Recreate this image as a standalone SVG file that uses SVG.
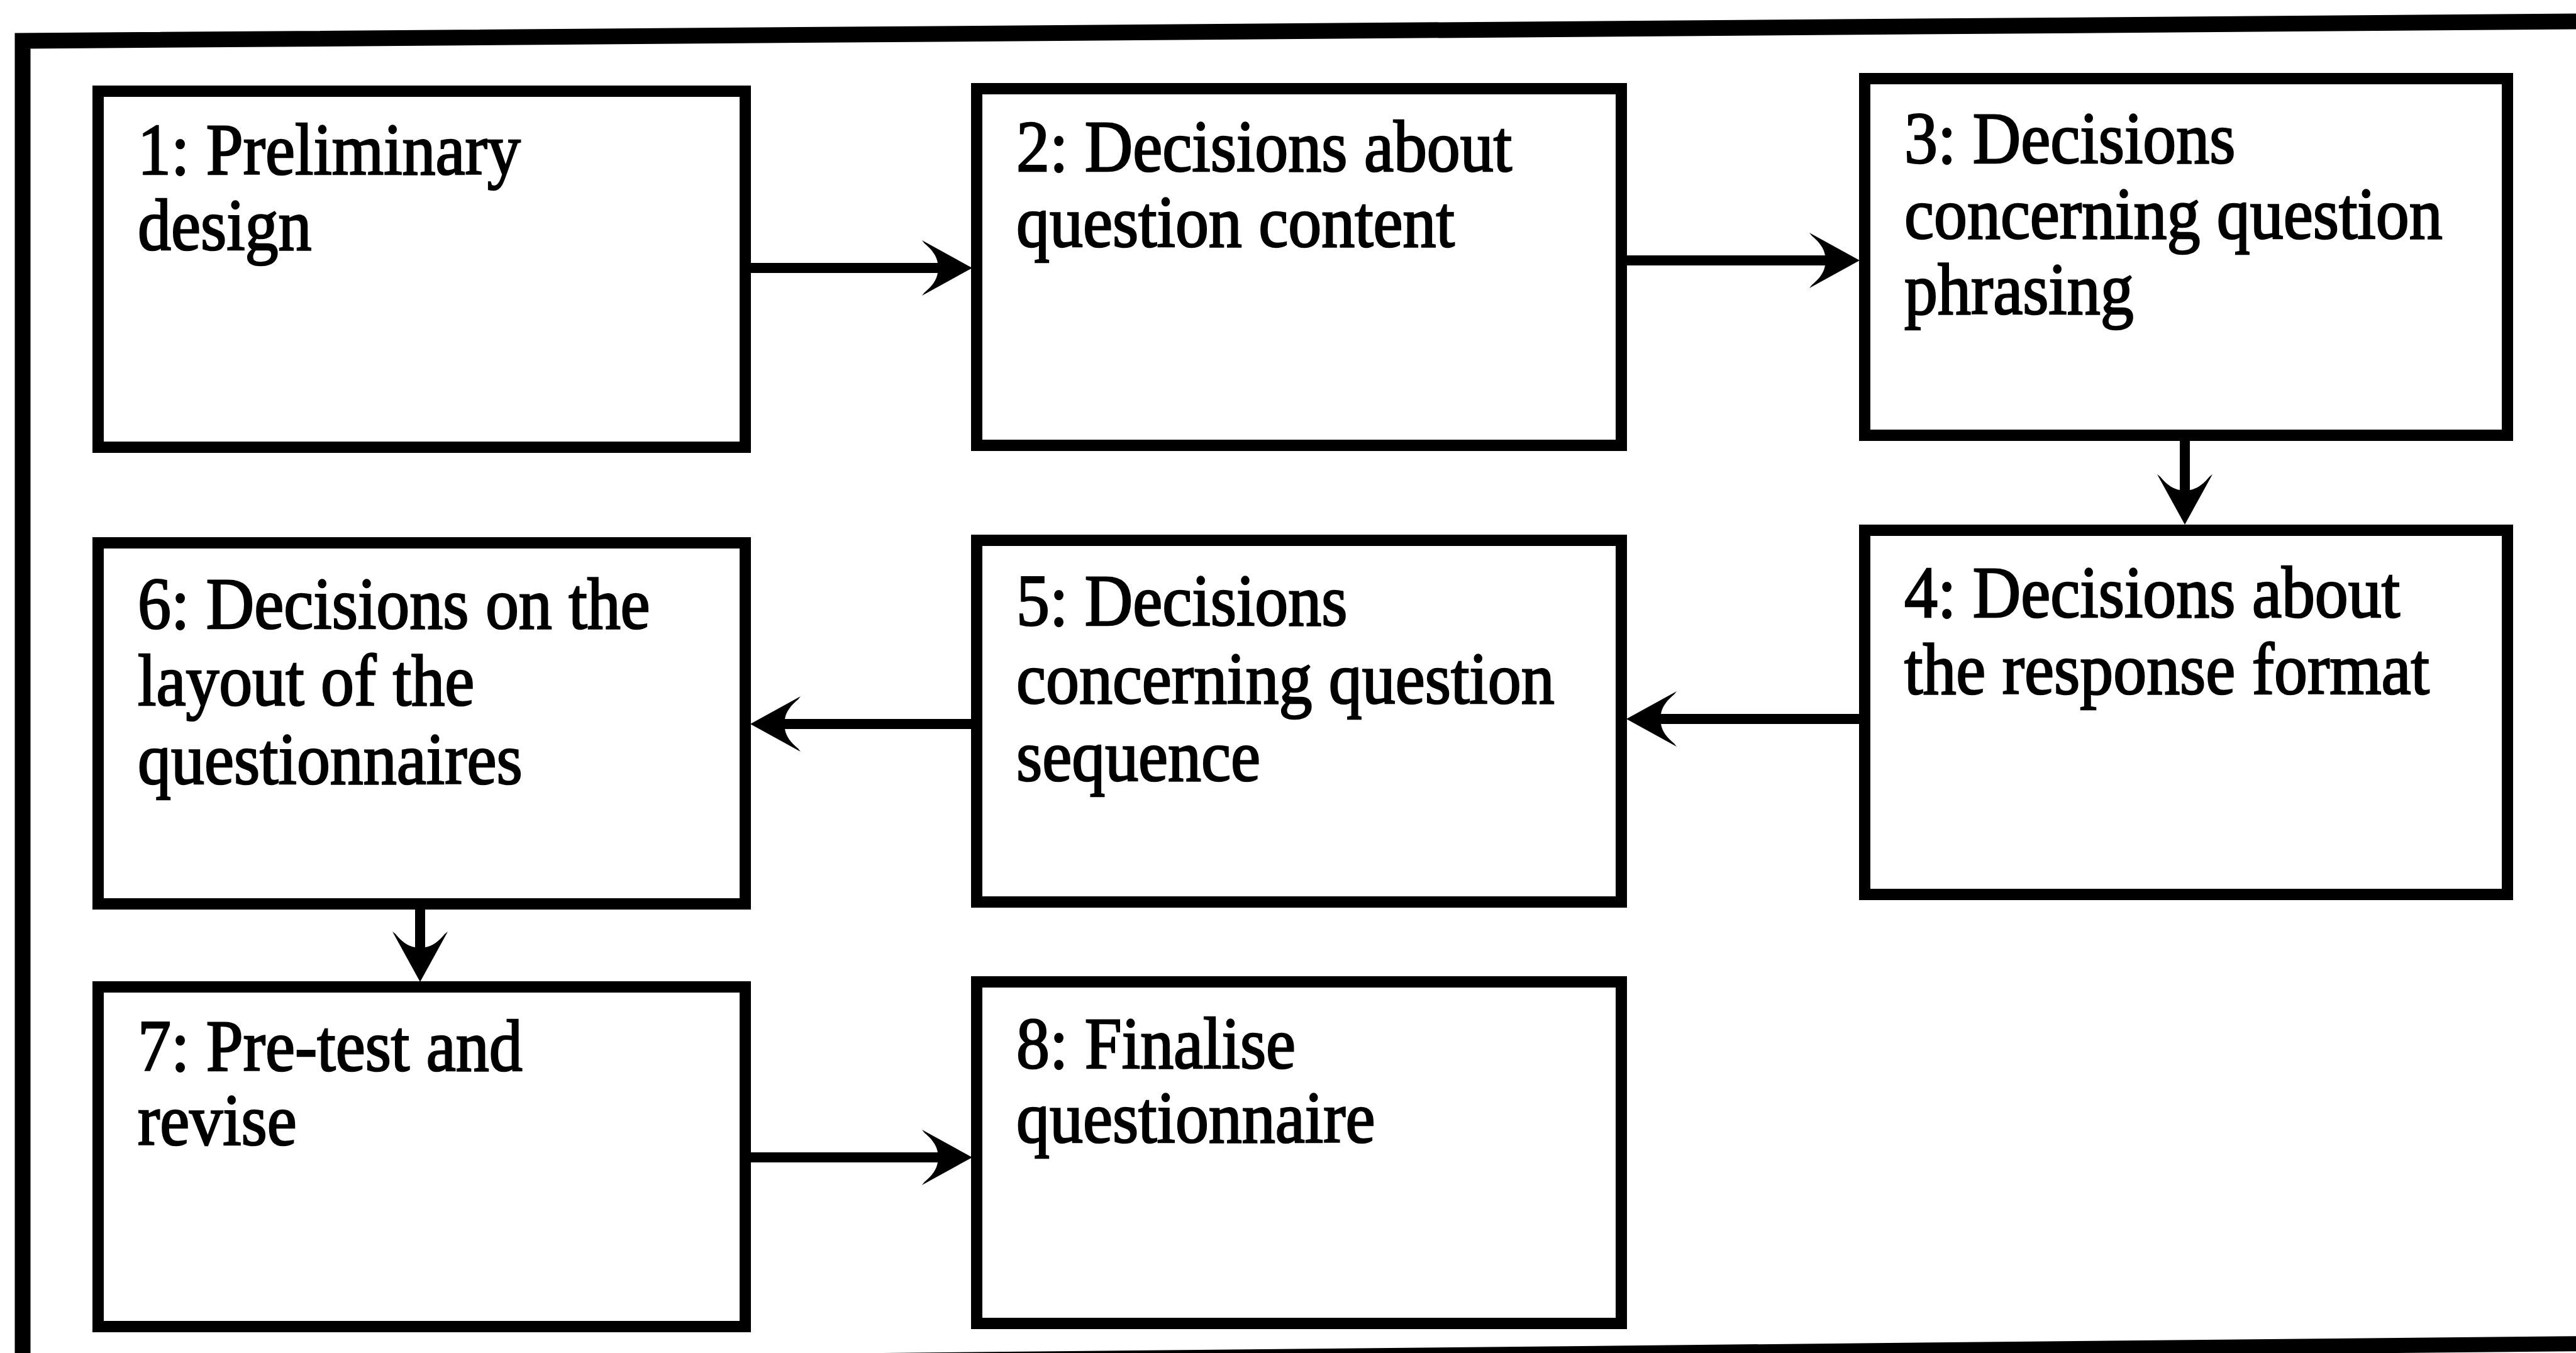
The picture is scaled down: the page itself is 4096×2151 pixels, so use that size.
<svg xmlns="http://www.w3.org/2000/svg" width="4096" height="2151" viewBox="0 0 4096 2151">
  <style>
    .box { fill: #fff; stroke: #000; stroke-width: 18; }
    .lbl { font-family: "Liberation Serif", "Times New Roman", serif; font-size: 117px; fill: #000; stroke: #000; stroke-width: 2.6; }
    .conn { fill: none; stroke: #000; stroke-width: 16; }
    .frame { fill: none; stroke: #000; stroke-width: 25; stroke-linejoin: miter; }
  </style>
  <defs>
    <!-- barbed arrowhead: origin sits at the notch where the shaft ends, tip lies 55 units ahead -->
    <marker id="barb" markerUnits="userSpaceOnUse" viewBox="-30 -50 90 100" markerWidth="90" markerHeight="100" refX="0" refY="0" orient="auto" overflow="visible">
      <path d="M 55,0 L -25,-44 L -21,-39 C -10,-30 -2,-20 0,-8 L 0,8 C -2,20 -10,30 -21,39 L -25,44 Z" fill="#000"/>
    </marker>
  </defs>

  <rect x="0" y="0" width="4096" height="2151" fill="#fff"/>

  <!-- outer frame (left and top edges, bottom edge running off the page) -->
  <g id="frame">
    <path class="frame" d="M 4110,34 L 36,65 L 36,2170"/>
    <path class="frame" d="M 0,2177 L 4110,2136" style="stroke-width:24"/>
  </g>

  <!-- connectors -->
  <g id="connectors">
    <line class="conn" x1="1185" y1="426" x2="1491" y2="426" marker-end="url(#barb)"/>
    <line class="conn" x1="2578" y1="414" x2="2902" y2="414" marker-end="url(#barb)"/>
    <line class="conn" x1="3474" y1="692" x2="3474" y2="779" marker-end="url(#barb)"/>
    <line class="conn" x1="2965" y1="1143" x2="2641" y2="1143" marker-end="url(#barb)"/>
    <line class="conn" x1="1553" y1="1151" x2="1248" y2="1151" marker-end="url(#barb)"/>
    <line class="conn" x1="668" y1="1437" x2="668" y2="1506" marker-end="url(#barb)"/>
    <line class="conn" x1="1185" y1="1840" x2="1491" y2="1840" marker-end="url(#barb)"/>
  </g>

  <!-- nodes -->
  <g id="node-1">
    <rect class="box" x="156" y="145" width="1029" height="566"/>
    <text class="lbl" transform="translate(219 277) scale(0.905 1)"><tspan x="0" y="0">1: Preliminary</tspan><tspan x="0" y="120">design</tspan></text>
  </g>
  <g id="node-2">
    <rect class="box" x="1553" y="141" width="1025" height="567"/>
    <text class="lbl" transform="translate(1616 272) scale(0.905 1)"><tspan x="0" y="0">2: Decisions about</tspan><tspan x="0" y="120">question content</tspan></text>
  </g>
  <g id="node-3">
    <rect class="box" x="2965" y="125" width="1022" height="567"/>
    <text class="lbl" transform="translate(3028 259) scale(0.905 1)"><tspan x="0" y="0">3: Decisions</tspan><tspan x="0" y="120">concerning question</tspan><tspan x="0" y="240">phrasing</tspan></text>
  </g>
  <g id="node-4">
    <rect class="box" x="2965" y="843" width="1022" height="579"/>
    <text class="lbl" transform="translate(3028 981) scale(0.905 1)"><tspan x="0" y="0">4: Decisions about</tspan><tspan x="0" y="122">the response format</tspan></text>
  </g>
  <g id="node-5">
    <rect class="box" x="1553" y="859" width="1025" height="575"/>
    <text class="lbl" transform="translate(1616 994) scale(0.905 1)"><tspan x="0" y="0">5: Decisions</tspan><tspan x="0" y="124">concerning question</tspan><tspan x="0" y="247">sequence</tspan></text>
  </g>
  <g id="node-6">
    <rect class="box" x="156" y="863" width="1029" height="574"/>
    <text class="lbl" transform="translate(219 999) scale(0.905 1)"><tspan x="0" y="0">6: Decisions on the</tspan><tspan x="0" y="122">layout of the</tspan><tspan x="0" y="247">questionnaires</tspan></text>
  </g>
  <g id="node-7">
    <rect class="box" x="156" y="1569" width="1029" height="540"/>
    <text class="lbl" transform="translate(219 1702) scale(0.905 1)"><tspan x="0" y="0">7: Pre-test and</tspan><tspan x="0" y="118">revise</tspan></text>
  </g>
  <g id="node-8">
    <rect class="box" x="1553" y="1561" width="1025" height="543"/>
    <text class="lbl" transform="translate(1616 1698) scale(0.905 1)"><tspan x="0" y="0">8: Finalise</tspan><tspan x="0" y="118">questionnaire</tspan></text>
  </g>
</svg>
